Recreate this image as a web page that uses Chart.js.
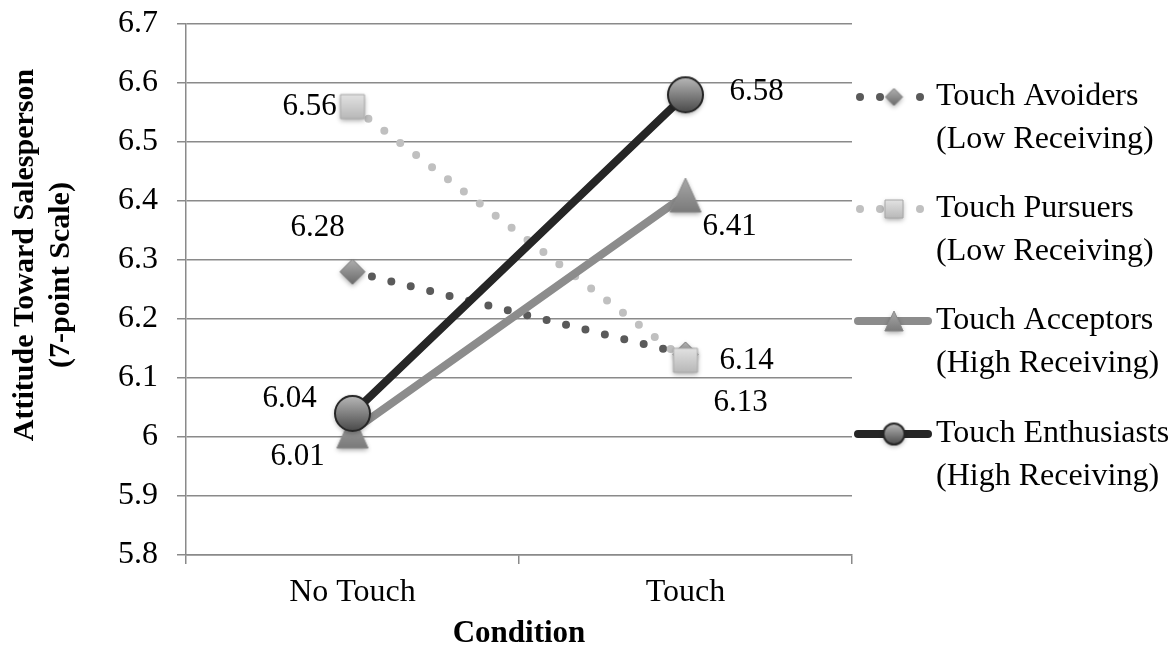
<!DOCTYPE html>
<html>
<head>
<meta charset="utf-8">
<script src="https://cdn.jsdelivr.net/npm/chart.js@4"></script>
<style>
  html, body { margin: 0; background: #fff; }
  #wrap { width: 1172px; height: 649px; }
</style>
</head>
<body>
<div id="wrap"><canvas id="chart"></canvas></div>
<script>
const categories = ['No Touch', 'Touch'];
const seriesNames = [
    ['Touch Avoiders', '(Low Receiving)'],
    ['Touch Pursuers', '(Low Receiving)'],
    ['Touch Acceptors', '(High Receiving)'],
    ['Touch Enthusiasts', '(High Receiving)']
];
const avoiders = [6.28, 6.14];
const pursuers = [6.56, 6.13];
const acceptors = [6.01, 6.41];
const enthusiasts = [6.04, 6.58];
const yMin = 5.8, yMax = 6.7, yStep = 0.1;
const yTitle = ['Attitude Toward Salesperson', '(7-point Scale)'];

const FONT = '"Liberation Serif", "Times New Roman", serif';
const GRID = '#8a8a8a';

// marker images with a soft gradient + shadow, like the office chart
function marker(shape, size, light, dark, stroke) {
    const pad = 8;
    const c = document.createElement('canvas');
    c.width = c.height = size + pad * 2;
    const g = c.getContext('2d');
    const m = c.width / 2, r = size / 2;
    const grad = g.createLinearGradient(0, m - r, 0, m + r);
    grad.addColorStop(0, light);
    grad.addColorStop(1, dark);
    g.beginPath();
    if (shape === 'circle') g.arc(m, m, r, 0, Math.PI * 2);
    else if (shape === 'rect') g.rect(m - r, m - r, size, size);
    else if (shape === 'diamond') { g.moveTo(m, m - r); g.lineTo(m + r, m); g.lineTo(m, m + r); g.lineTo(m - r, m); g.closePath(); }
    else if (shape === 'triangle') { g.moveTo(m, m - r); g.lineTo(m + r * 0.92, m + r); g.lineTo(m - r * 0.92, m + r); g.closePath(); }
    g.shadowColor = 'rgba(0,0,0,0.35)';
    g.shadowBlur = 5;
    g.shadowOffsetY = 2;
    g.fillStyle = grad;
    g.fill();
    g.shadowColor = 'transparent';
    g.lineWidth = shape === 'circle' ? 2 : 1;
    g.strokeStyle = stroke;
    g.stroke();
    return c;
}

const styles = [
    { color: '#5a5a5a', dash: [0, 20], width: 8, shape: 'diamond', size: 25, light: '#b0b0b0', dark: '#6a6a6a', stroke: '#777', lsize: 17 },
    { color: '#c0c0c0', dash: [0, 20], width: 8, shape: 'rect', size: 24, light: '#e2e2e2', dark: '#b8b8b8', stroke: '#a8a8a8', lsize: 18 },
    { color: '#8c8c8c', dash: [], width: 8, shape: 'triangle', size: 34, light: '#a8a8a8', dark: '#7a7a7a', stroke: '#8a8a8a', lsize: 20 },
    { color: '#262626', dash: [], width: 8, shape: 'circle', size: 35, light: '#b8b8b8', dark: '#4a4a4a', stroke: '#262626', lsize: 21 }
];
styles.forEach(s => {
    s.img = marker(s.shape, s.size, s.light, s.dark, s.stroke);
    s.limg = marker(s.shape, s.lsize, s.light, s.dark, s.stroke);
});

// value label offsets (px) per series per point
const labelOffsets = [
    [[-35, -44], [61, 6]],
    [[-43, 0], [55, 43]],
    [[-55, 26], [44, 32]],
    [[-63, -15], [71, -3]]
];

const seriesData = [avoiders, pursuers, acceptors, enthusiasts];

const datasets = seriesData.map((d, i) => ({
    label: seriesNames[i].join(' '),
    data: d,
    borderColor: styles[i].color,
    borderWidth: styles[i].width,
    borderDash: styles[i].dash,
    borderCapStyle: 'round',
    pointStyle: styles[i].img,
    pointHoverRadius: 0,
    order: 3 - i,
    fill: false,
    tension: 0
}));

const valueLabels = {
    id: 'valueLabels',
    afterDatasetsDraw(chart) {
        const ctx = chart.ctx;
        ctx.save();
        ctx.font = '31px ' + FONT;
        ctx.fillStyle = '#000';
        ctx.textAlign = 'center';
        ctx.textBaseline = 'middle';
        chart.data.datasets.forEach((ds, i) => {
            chart.getDatasetMeta(i).data.forEach((pt, j) => {
                const o = labelOffsets[i][j];
                ctx.fillText(ds.data[j].toFixed(2), pt.x + o[0], pt.y + o[1]);
            });
        });
        ctx.restore();
    }
};

// y title drawn by hand so each line sits where the original put it
const yTitlePlugin = {
    id: 'yTitle',
    afterDraw(chart) {
        const ctx = chart.ctx;
        ctx.save();
        ctx.font = 'bold 30px ' + FONT;
        ctx.fillStyle = '#000';
        ctx.textAlign = 'center';
        ctx.textBaseline = 'middle';
        [[25, 255], [61, 275]].forEach((p, k) => {
            ctx.save();
            ctx.translate(p[0], p[1]);
            ctx.rotate(-Math.PI / 2);
            ctx.fillText(yTitle[k], 0, 0);
            ctx.restore();
        });
        ctx.restore();
    }
};

const sideLegend = {
    id: 'sideLegend',
    afterDraw(chart) {
        const ctx = chart.ctx;
        const x0 = 855, x1 = 931, tx = 936;
        const rows = [97, 209, 321, 434];
        ctx.save();
        styles.forEach((s, i) => {
            const y = rows[i];
            const mx = (x0 + x1) / 2 + 1;
            ctx.strokeStyle = s.color;
            ctx.lineWidth = s.width;
            ctx.lineCap = 'round';
            if (s.dash.length) {
                ctx.fillStyle = s.color;
                [860, 880, 920].forEach(dx => {
                    ctx.beginPath();
                    ctx.arc(dx, y, 4, 0, Math.PI * 2);
                    ctx.fill();
                });
            } else {
                ctx.beginPath();
                ctx.moveTo(x0 + 3, y);
                ctx.lineTo(x1 - 3, y);
                ctx.stroke();
            }
            ctx.drawImage(s.limg, mx - s.limg.width / 2, y - s.limg.height / 2);
            ctx.fillStyle = '#000';
            ctx.font = '32px ' + FONT;
            ctx.textAlign = 'left';
            ctx.textBaseline = 'middle';
            ctx.fillText(seriesNames[i][0], tx, y);
            ctx.fillText(seriesNames[i][1], tx, y + 43);
        });
        ctx.restore();
    }
};

new Chart(document.getElementById('chart'), {
    type: 'line',
    data: { labels: categories, datasets },
    plugins: [valueLabels, yTitlePlugin, sideLegend],
    options: {
        responsive: true,
        maintainAspectRatio: false,
        animation: false,
        events: [],
        layout: { padding: { top: 24, right: 320, left: 0, bottom: 0 } },
        plugins: { legend: { display: false }, tooltip: { enabled: false } },
        scales: {
            x: {
                offset: true,
                grid: { display: true, drawOnChartArea: false, offset: true, tickLength: 9, color: GRID, lineWidth: 1.5 },
                border: { display: true, color: GRID, width: 1.5 },
                ticks: { color: '#000', font: { family: FONT, size: 32 }, padding: 9 },
                title: { display: true, text: 'Condition', color: '#000', font: { family: FONT, size: 31, weight: 'bold', lineHeight: 1 }, padding: { top: 0, bottom: 0 } },
                afterFit: s => { s.height = 94; }
            },
            y: {
                min: yMin, max: yMax,
                grid: { color: GRID, lineWidth: 1.5, tickLength: 9 },
                border: { display: true, color: GRID, width: 1.5 },
                ticks: {
                    stepSize: yStep, color: '#000', padding: 19,
                    font: { family: FONT, size: 32, lineHeight: 0.2 },
                    callback: v => String(Math.round(v * 10) / 10)
                },
                title: { display: false },
                afterFit: s => { s.width = 186; }
            }
        }
    }
});
</script>
</body>
</html>
